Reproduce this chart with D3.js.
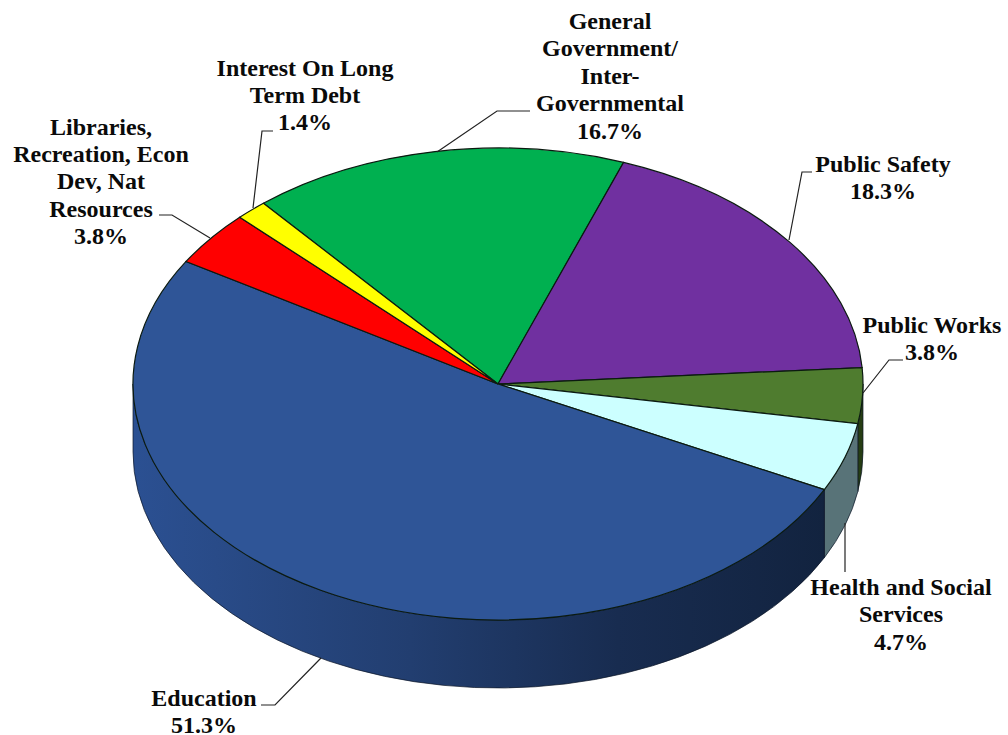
<!DOCTYPE html>
<html>
<head>
<meta charset="utf-8">
<style>
  html, body { margin: 0; padding: 0; background: #fff; }
  svg { display: block; }
  text { font-family: "Liberation Serif", serif; font-weight: 700; font-size: 24px; fill: #0a0a0a; text-anchor: middle; }
</style>
<script src="https://cdn.jsdelivr.net/npm/d3@7/dist/d3.min.js"></script>
</head>
<body>
<svg id="chart" width="1008" height="735"></svg>
<script>
// Budget shares, clockwise from the General Government slice
const categories = [
  "General Government/ Inter-Governmental",
  "Public Safety",
  "Public Works",
  "Health and Social Services",
  "Education",
  "Libraries, Recreation, Econ Dev, Nat Resources",
  "Interest On Long Term Debt"
];
const shares = [16.7, 18.3, 3.8, 4.7, 51.3, 3.8, 1.4];
const labelLines = [
  ["General", "Government/", "Inter-", "Governmental"],
  ["Public Safety"],
  ["Public Works"],
  ["Health and Social", "Services"],
  ["Education"],
  ["Libraries,", "Recreation, Econ", "Dev, Nat", "Resources"],
  ["Interest On Long", "Term Debt"]
];
const topColors = ["#00b050", "#7030a0", "#4f7c2f", "#ccffff", "#2f5597", "#ff0000", "#ffff00"];
const wallColors = ["#00602c", "#3d1a58", "#263d14", "#587378", "#1d3560", "#8c0000", "#8c8c00"];

// Label blocks: centre x, first-line centre y, line step
const labelPlace = [
  [610, 21, 27.5], [883, 164, 27], [932, 325, 27], [901, 587, 27.5],
  [204, 698, 27], [101, 127, 27.2], [305, 68, 27]
];
// Leader polylines from the pie edge to the label
const leaders = [
  [[437, 152], [497, 111], [530, 111]],
  [[789, 240], [802, 172], [812, 172]],
  [[863, 393], [889, 360], [903, 360]],
  [[845, 523], [845, 572]],
  [[321, 658], [275, 705], [261, 705]],
  [[210, 238], [172, 215], [159, 215]],
  [[253, 208], [262, 131], [273, 131]]
];

const cx = 498, cy = 384, rx = 365, ry = 236, depth = 68;
const svg = d3.select("#chart");
const toRad = d => d * Math.PI / 180;

const pie = d3.pie().sort(null).value(d => d)
  .startAngle(toRad(-40)).endAngle(toRad(320));
const slices = pie(shares);

const px = a => cx + rx * Math.sin(a);
const py = a => cy - ry * Math.cos(a);

// Shaded rim on the Education slice, darkening to the right
const defs = svg.append("defs");
const grad = defs.append("linearGradient").attr("id", "eduWall")
  .attr("gradientUnits", "userSpaceOnUse")
  .attr("x1", cx - rx).attr("x2", cx + rx * 0.9).attr("y1", 0).attr("y2", 0);
[[0, "#2b5092"], [0.12, "#294b88"], [0.4, "#223e70"], [0.7, "#182c50"], [1, "#12233f"]]
  .forEach(([o, c]) => grad.append("stop").attr("offset", o).attr("stop-color", c));

// Rim: only the part of each slice facing the viewer (90deg to 270deg) is drawn
const lo = toRad(90), hi = toRad(270);
const walls = svg.append("g");
slices.forEach((s, i) => {
  const a0 = Math.max(s.startAngle, lo), a1 = Math.min(s.endAngle, hi);
  if (a1 <= a0) return;
  const large = a1 - a0 > Math.PI ? 1 : 0;
  const arcCmd = `M${px(a0)},${py(a0)} A${rx},${ry} 0 ${large} 1 ${px(a1)},${py(a1)} ` +
    `L${px(a1)},${py(a1) + depth} A${rx},${ry} 0 ${large} 0 ${px(a0)},${py(a0) + depth} Z`;
  walls.append("path")
    .attr("d", arcCmd)
    .attr("fill", i === 4 ? "url(#eduWall)" : wallColors[i])
    .attr("stroke", "#0c1526").attr("stroke-width", 0.7);
});

// Top face: a circular arc squashed vertically into the ellipse
const arc = d3.arc().innerRadius(0).outerRadius(rx);
svg.append("g")
  .attr("transform", `translate(${cx},${cy}) scale(1,${ry / rx})`)
  .selectAll("path").data(slices).join("path")
  .attr("d", arc)
  .attr("fill", (d, i) => topColors[i])
  .attr("stroke", "#0b1a10")
  .attr("stroke-width", 1.2)
  .attr("vector-effect", "non-scaling-stroke");

// Leader lines
const line = d3.line();
svg.append("g").selectAll("path").data(leaders).join("path")
  .attr("d", line).attr("fill", "none")
  .attr("stroke", "#222").attr("stroke-width", 1.2);

// Labels: wrapped name lines followed by the percentage
const fmt = d3.format(".1f");
categories.forEach((name, i) => {
  const [x, y, step] = labelPlace[i];
  const lines = labelLines[i].concat(fmt(shares[i]) + "%");
  const t = svg.append("text").attr("data-category", name);
  lines.forEach((l, k) => {
    t.append("tspan").attr("x", x).attr("y", y + k * step)
      .attr("dy", "0.33em").text(l);
  });
});
</script>
</body>
</html>
